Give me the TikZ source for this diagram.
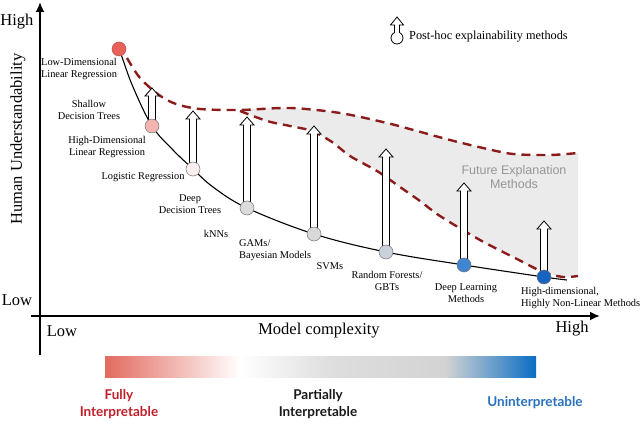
\documentclass[tikz,border=0pt]{standalone}
\usepackage{fontspec}
\setmainfont{Liberation Serif}
\newfontfamily\arialf{Liberation Sans}
\newfontfamily\gillf{Lato}
\usetikzlibrary{arrows.meta}
\definecolor{dred}{RGB}{140,28,28}
\definecolor{fillgray}{RGB}{235,235,235}
\definecolor{cn1}{RGB}{232,98,90}
\definecolor{cn2}{RGB}{242,181,176}
\definecolor{cn3}{RGB}{252,239,239}
\definecolor{cn4}{RGB}{220,220,220}
\definecolor{cn5}{RGB}{217,217,217}
\definecolor{cn6}{RGB}{201,210,218}
\definecolor{cn7}{RGB}{63,134,210}
\definecolor{cn8}{RGB}{21,101,192}
\definecolor{barred}{RGB}{226,107,95}
\definecolor{barblue}{RGB}{10,110,196}
\definecolor{bargray}{RGB}{222,222,222}
\definecolor{lblred}{RGB}{192,30,40}
\definecolor{lblblue}{RGB}{40,112,190}
\definecolor{futgray}{RGB}{150,150,150}
\newcommand{\hollowup}[3]{\draw[blockarrow] (#1-3.5,#2) -- (#1-3.5,#3+8) -- (#1-7,#3+8) -- (#1,#3) -- (#1+7,#3+8) -- (#1+3.5,#3+8) -- (#1+3.5,#2) -- cycle;}
\begin{document}
\begin{tikzpicture}[x=1pt,y=-1pt,
  axis/.style={line width=2.6pt,-{Latex[length=10pt,width=9pt]}},
  model/.style={circle,draw=black!55,line width=0.5pt,minimum size=14pt,inner sep=0pt},
  lbl/.style={font=\fontsize{10.4}{12.5}\selectfont,align=center,inner sep=0pt},
  axlbl/.style={font=\fontsize{16.5}{18}\selectfont,inner sep=0pt},
  dashcurve/.style={dred,line width=2.4pt,dash pattern=on 9pt off 6pt},
  blockarrow/.style={draw=black,fill=white,line width=0.8pt,line join=miter},
  bottomlbl/.style={font=\gillf\bfseries\fontsize{13.5}{17}\selectfont,align=center,inner sep=0pt}]
\useasboundingbox (0,0) rectangle (640,422);

% gray region
\fill[fillgray] plot[smooth] coordinates {(240,110) (290,108) (340,113) (387,123) (417,131) (450,140) (483,148) (513,154) (550,155) (578,153)}
  -- (578,276) -- plot[smooth] coordinates {(563,277) (543,272) (517,259) (480,240) (440,216) (420,201) (400,187) (377,171) (350,156) (332,142) (312,131) (290,126) (267,121) (240,111)} -- cycle;

% dashed curves
\draw[dashcurve] plot[smooth] coordinates {(127,58) (140,78) (159,95) (176,104) (200,109) (240,110) (290,108) (340,113) (387,123) (417,131) (450,140) (483,148) (513,154) (550,155) (578,153)};
\draw[dashcurve] plot[smooth] coordinates {(240,111) (267,121) (290,126) (312,131) (332,142) (350,156) (377,171) (400,187) (420,201) (440,216) (480,240) (517,259) (543,272) (563,277) (578,276)};

% model positions
\coordinate (p1) at (119,49);
\coordinate (p2) at (152,126);
\coordinate (p3) at (193,169);
\coordinate (p4) at (247,208);
\coordinate (p5) at (314,234);
\coordinate (p6) at (386,252);
\coordinate (p7) at (464,265);
\coordinate (p8) at (544,277);
\coordinate (pend) at (567,280);

% main curve
\draw[line width=1.1pt] plot[smooth,tension=0.6] coordinates {(p1) (122,57) (133,87) (p2) (173,150) (p3) (213,187) (p4) (p5) (p6) (p7) (p8) (pend)};

% post-hoc arrows
\hollowup{152}{126}{88}
\hollowup{193}{169}{111}
\hollowup{247}{208}{117}
\hollowup{314}{234}{126}
\hollowup{386}{252}{149}
\hollowup{464}{265}{183}
\hollowup{544}{277}{221}

% model nodes
\node[model,fill=cn1,draw=cn1!80!black] (n1) at (p1) {};
\node[model,fill=cn2] (n2) at (p2) {};
\node[model,fill=cn3] (n3) at (p3) {};
\node[model,fill=cn4] (n4) at (p4) {};
\node[model,fill=cn5] (n5) at (p5) {};
\node[model,fill=cn6] (n6) at (p6) {};
\node[model,fill=cn7] (n7) at (p7) {};
\node[model,fill=cn8] (n8) at (p8) {};

% model labels
\node[lbl] (l1) at (79,69) {Low-Dimensional\\Linear Regression};
\node[lbl] (l2a) at (89,110) {Shallow\\Decision Trees};
\node[lbl] (l2b) at (107,147) {High-Dimensional\\Linear Regression};
\node[lbl] (l3) at (143,177) {Logistic Regression};
\node[lbl] (l4) at (190,204) {Deep\\Decision Trees};
\node[lbl] (l4b) at (216,234) {kNNs};
\node[lbl,align=left,anchor=west] (l5) at (239,250) {GAMs/\\Bayesian Models};
\node[lbl] (l5b) at (330,266) {SVMs};
\node[lbl] (l6) at (387,281) {Random Forests/\\GBTs};
\node[lbl] (l7) at (466,293) {Deep Learning\\Methods};
\node[lbl,align=left,anchor=west] (l8) at (521,298) {High-dimensional,\\Highly Non-Linear Methods};

% future explanation
\node[font=\arialf\fontsize{12.5}{14}\selectfont,text=futgray,align=center,inner sep=0pt] (fut) at (514,177) {Future Explanation\\Methods};

% legend
\coordinate (lg) at (397,38);
\draw[line width=0.8pt,fill=white] (lg) circle (6pt);
\fill[white] (394.5,25) rectangle (399.5,34);
\draw[line width=0.8pt,line join=miter] (394.5,33) -- (394.5,25) -- (390.5,25) -- (397,17) -- (403.5,25) -- (399.5,25) -- (399.5,33);
\node[font=\fontsize{12.3}{14}\selectfont,anchor=west,inner sep=0pt] (legtxt) at (409,37) {Post-hoc explainability methods};

% axes
\coordinate (yb) at (40,355);
\coordinate (yt) at (40,2);
\coordinate (xl) at (31,316);
\coordinate (xr) at (600,316);
\draw[axis] (yb) -- (yt);
\draw[axis] (xl) -- (xr);
\node[axlbl] (hy) at (17,22) {High};
\node[axlbl] (ly) at (17,300) {Low};
\node[axlbl,rotate=90] (ytitle) at (18,139) {Human Understandability};
\node[axlbl] (lx) at (62,331) {Low};
\node[axlbl] (xtitle) at (319,331) {Model complexity};
\node[axlbl] (hx) at (572,329) {High};

% gradient bar
\shade[left color=barred,right color=white] (105,356) rectangle (240.5,377);
\shade[left color=white,right color=bargray] (240,356) rectangle (330.5,377);
\shade[left color=bargray,right color=bargray!95!black] (330,356) rectangle (445.5,377);
\shade[left color=bargray!95!black,right color=barblue] (445,356) rectangle (536,377);

% bottom labels
\node[bottomlbl,text=lblred] (full) at (119,404) {Fully\\Interpretable};
\node[bottomlbl,text=black!90] (part) at (318,404) {Partially\\Interpretable};
\node[bottomlbl,text=lblblue] (unin) at (535,403) {Uninterpretable};
\end{tikzpicture}
\end{document}
